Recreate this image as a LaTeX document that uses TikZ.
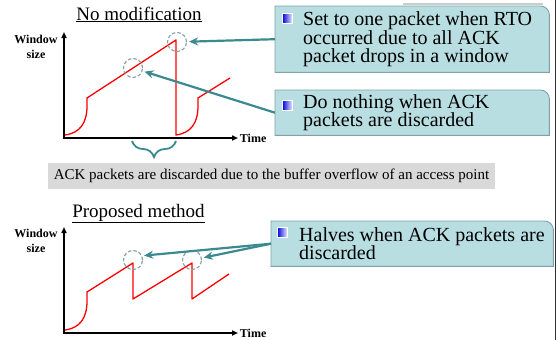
\documentclass[tikz,border=0pt]{standalone}
\usepackage{fontspec}
\setmainfont{Liberation Serif}
\usetikzlibrary{positioning, arrows.meta, decorations.pathreplacing}

\definecolor{panelfill}{RGB}{184,222,226}
\definecolor{panelline}{RGB}{125,163,168}
\definecolor{pointer}{RGB}{58,138,143}
\definecolor{ringgray}{RGB}{130,160,166}
\definecolor{bandgray}{RGB}{217,217,217}

\begin{document}
\begin{tikzpicture}[
  x=1pt, y=-1pt,
  heading/.style={anchor=base, inner sep=0pt, font=\fontsize{19}{22}\selectfont},
  axlabel/.style={align=center, inner sep=0pt, font=\bfseries\fontsize{12}{15}\selectfont},
  plotaxis/.style={line width=1.8pt, {Triangle[length=6pt, width=5pt]}-{Triangle[length=6pt, width=5pt]}},
  cwnd/.style={draw=red, line width=1.3pt, line join=round},
  dropring/.style={draw=ringgray, dash pattern=on 3.5pt off 2pt, circle, minimum size=19pt,
              inner sep=0pt, line width=1.1pt},
  panel/.style={minimum width=#1, minimum height=45pt, inner sep=0pt, anchor=north west},
  bullet/.style={minimum size=10pt, inner sep=0pt, anchor=north west, draw=white, line width=0.4pt,
              left color=blue!85!black, right color=blue!8},
  ptext/.style={align=left, inner sep=0pt, font=\fontsize{20}{18.5}\selectfont},
  arr/.style={-{Stealth[length=9pt, width=8pt]}, line width=2.2pt, draw=pointer, shorten >=2pt}
 ]
\useasboundingbox (0,0) rectangle (557,340);
\draw[black!80, line width=0.8pt] (555,0) -- (555,340);
\draw[black!20, line width=1.2pt] (403,4) -- (543,4);

\node[heading] (nomod) at (139,20) {\underline{No modification}};
\draw[plotaxis] (64,32) -- (64,138) -- (238,138) node[axlabel, right=1pt] (timeA) {Time};
\node[axlabel] (winA) at (36,47) {Window\\size};
\draw[cwnd] (65,135) .. controls (80,133) and (87,123) .. (87,106) -- (87,98) -- (176,40) -- (176,135)
  .. controls (191,133) and (198,123) .. (198,106) -- (198,98) -- (230,78);
\node[dropring] (rtoring) at (177,42) {};
\node[dropring] (ackring) at (133,68) {};

\coordinate (lossL) at (132,141);
\coordinate (lossR) at (176,141);
\draw[pointer, line width=1.8pt, decorate, decoration={brace, mirror, amplitude=16pt}] (lossL) -- (lossR);

\node[fill=bandgray, minimum width=447pt, minimum height=26pt, inner sep=0pt,
      font=\fontsize{15}{17}\selectfont] (overflow) at (271.5,176)
  {ACK packets are discarded due to the buffer overflow of an access point};

\node[heading] (propttl) at (138.5,217) {\underline{Proposed method}};
\draw[plotaxis] (64,227) -- (64,333) -- (238,333) node[axlabel, right=1pt] (timeB) {Time};
\node[axlabel] (winB) at (36,241) {Window\\size};
\draw[cwnd] (65,330) .. controls (80,328) and (87,318) .. (87,301) -- (87,292) -- (133,263) -- (133,299)
  -- (192,263) -- (192,299) -- (229,274);
\node[dropring] (halfringA) at (133,260) {};
\node[dropring] (halfringB) at (192,260) {};

\node[panel=274, minimum height=66pt] (rtobox) at (275,6) {};
\node[panel=274] (idlebox) at (275,90) {};
\node[panel=282] (halfbox) at (271,221) {};
\foreach \b in {rtobox, idlebox, halfbox}
  \draw[fill=panelfill, draw=panelline, line width=0.9pt]
    (\b.south west) -- (\b.north west) -- ([xshift=-9pt]\b.north east)
    arc[start angle=90, end angle=0, radius=9pt] -- (\b.south east) -- cycle;

\node[bullet] (rtobul) at (282,13) {};
\node[bullet] (idlebul) at (282,100) {};
\node[bullet] (halfbul) at (277,227) {};
\node[ptext, right=28pt of rtobox.west] (rtotxt) {Set to one packet when RTO\\occurred due to all ACK\\packet drops in a window};
\node[ptext, right=28pt of idlebox.west] (idletxt) {Do nothing when ACK\\packets are discarded};
\node[ptext, right=28pt of halfbox.west] (halftxt) {Halves when ACK packets are\\discarded};

\draw[arr] (rtobox.west) -- (rtoring);
\draw[arr] (idlebox.west) -- (ackring);
\draw[arr] (halfbox.west) -- (halfringA.25);
\draw[arr] (halfbox.west) -- (halfringB);
\end{tikzpicture}
\end{document}
